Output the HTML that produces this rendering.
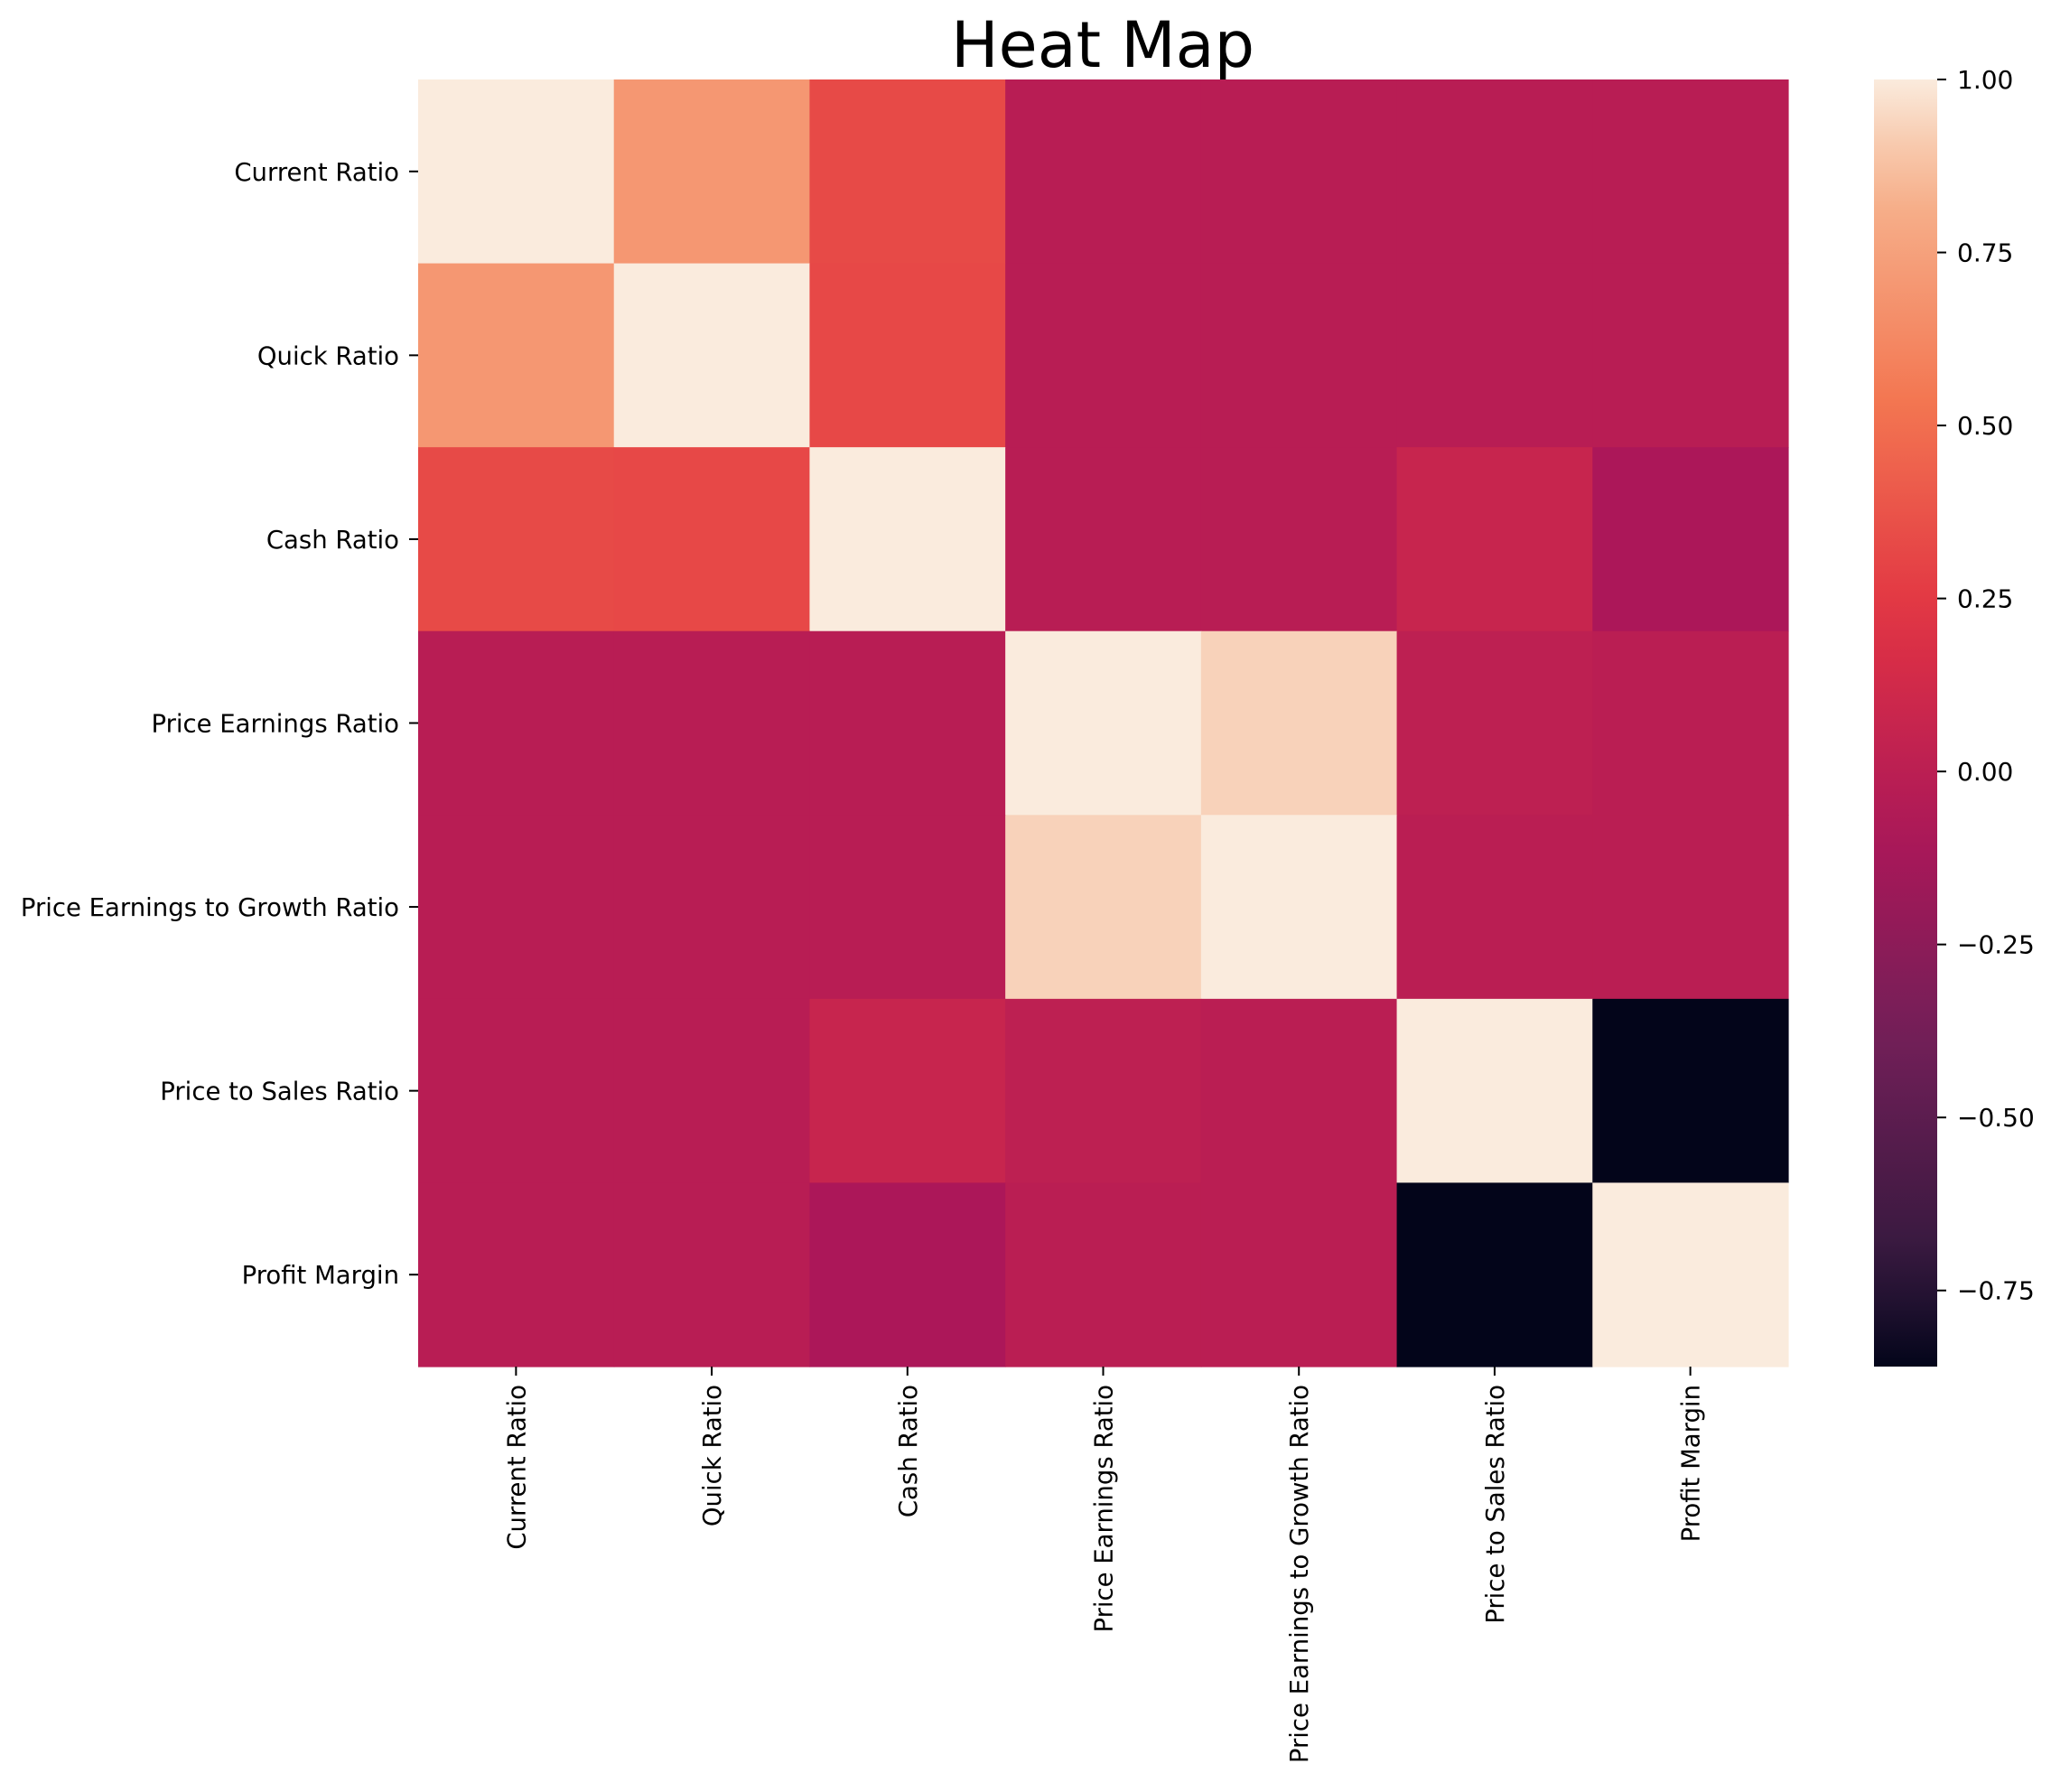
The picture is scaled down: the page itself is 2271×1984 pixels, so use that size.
<!DOCTYPE html>
<html><head><meta charset="utf-8"><style>
html,body{margin:0;padding:0;background:#fff;}
svg text{font-family:"DejaVu Sans","Liberation Sans",sans-serif;fill:#000;}
</style></head><body>
<svg id="chart" width="2271" height="1979" xmlns="http://www.w3.org/2000/svg">
<text x="1221" y="74" font-size="70" text-anchor="middle">Heat Map</text>
<g id="cells"></g>
<g id="ylab"></g>
<g id="xlab"></g>
<defs><linearGradient id="cbg" x1="0" y1="1" x2="0" y2="0"></linearGradient></defs>
<rect x="2075" y="88" width="70" height="1425" fill="url(#cbg)"/>
<g id="cbticks"></g>
</svg>
<script>
const labels = ["Current Ratio","Quick Ratio","Cash Ratio","Price Earnings Ratio","Price Earnings to Growth Ratio","Price to Sales Ratio","Profit Margin"];
const row0 = [1.00, 0.70, 0.33, -0.02, -0.02, -0.02, -0.02];
const row1 = [0.70, 1.00, 0.32, -0.02, -0.02, -0.02, -0.02];
const row2 = [0.33, 0.32, 1.00, -0.02, -0.02, 0.07, -0.09];
const row3 = [-0.02, -0.02, -0.02, 1.00, 0.93, 0.01, -0.01];
const row4 = [-0.02, -0.02, -0.02, 0.93, 1.00, -0.01, -0.01];
const row5 = [-0.02, -0.02, 0.07, 0.01, -0.01, 1.00, -0.86];
const row6 = [-0.02, -0.02, -0.09, -0.01, -0.01, -0.86, 1.00];
const cbTicks = [1.00, 0.75, 0.50, 0.25, 0.00, -0.25, -0.50, -0.75];
const cbTickLabels = ["1.00","0.75","0.50","0.25","0.00","\u22120.25","\u22120.50","\u22120.75"];
const vmin = -0.86, vmax = 1.0;

const rows = [row0,row1,row2,row3,row4,row5,row6];
const L=463, R=1980, T=88, B=1513;
const cw=(R-L)/7, ch=(B-T)/7;
const stops=[[0,[3,5,26]],[1/12,[53,25,62]],[3/12,[112,31,87]],[5/12,[173,23,89]],[7/12,[225,51,66]],[9/12,[243,118,81]],[11/12,[246,180,143]],[1,[250,235,221]]];
function cmap(t){t=Math.max(0,Math.min(1,t));for(let i=1;i<stops.length;i++){if(t<=stops[i][0]){const a=stops[i-1],b=stops[i];const f=(t-a[0])/(b[0]-a[0]);const c=a[1].map((v,k)=>Math.round(v+(b[1][k]-v)*f));return `rgb(${c})`;}}return 'rgb(250,235,221)';}
function norm(v){return (v-vmin)/(vmax-vmin);}
function yScale(v){return T+(vmax-v)/(vmax-vmin)*(B-T);}
const NS="http://www.w3.org/2000/svg";
const cells=document.getElementById('cells');
rows.forEach((r,i)=>r.forEach((v,j)=>{
  const el=document.createElementNS(NS,'rect');
  el.setAttribute('x',L+j*cw);el.setAttribute('y',T+i*ch);
  el.setAttribute('width',cw+0.6);el.setAttribute('height',ch+0.6);
  el.setAttribute('fill',cmap(norm(v)));
  
  
  cells.appendChild(el);
}));
const yl=document.getElementById('ylab'), xl=document.getElementById('xlab');
labels.forEach((lab,i)=>{
  const cy=T+(i+0.5)*ch;
  const tk=document.createElementNS(NS,'line');
  tk.setAttribute('x1',L-10);tk.setAttribute('x2',L);tk.setAttribute('y1',cy);tk.setAttribute('y2',cy);tk.setAttribute('stroke','#000');tk.setAttribute('stroke-width','2');
  
  
  yl.appendChild(tk);
  const t=document.createElementNS(NS,'text');
  t.setAttribute('x',L-21);t.setAttribute('y',cy+10);t.setAttribute('font-size','27.5');t.setAttribute('text-anchor','end');
  t.textContent=lab;
  
  
  yl.appendChild(t);
  const cx=L+(i+0.5)*cw;
  const tk2=document.createElementNS(NS,'line');
  tk2.setAttribute('x1',cx);tk2.setAttribute('x2',cx);tk2.setAttribute('y1',B);tk2.setAttribute('y2',B+10);tk2.setAttribute('stroke','#000');tk2.setAttribute('stroke-width','2');
  
  
  xl.appendChild(tk2);
  const t2=document.createElementNS(NS,'text');
  t2.setAttribute('transform',`translate(${cx+10},${B+20}) rotate(-90)`);t2.setAttribute('font-size','27.5');t2.setAttribute('text-anchor','end');
  t2.textContent=lab;
  
  
  xl.appendChild(t2);
});
const g=document.getElementById('cbg');
for(let k=0;k<=20;k++){const s=document.createElementNS(NS,'stop');s.setAttribute('offset',k/20);s.setAttribute('stop-color',cmap(k/20));g.appendChild(s);}
const cbt=document.getElementById('cbticks');
cbTicks.forEach((v,i)=>{
  const y=yScale(v);
  const tk=document.createElementNS(NS,'line');
  tk.setAttribute('x1',2145);tk.setAttribute('x2',2155);tk.setAttribute('y1',y);tk.setAttribute('y2',y);tk.setAttribute('stroke','#000');tk.setAttribute('stroke-width','2');
  
  
  cbt.appendChild(tk);
  const t=document.createElementNS(NS,'text');
  t.setAttribute('x',2167);t.setAttribute('y',y+10);t.setAttribute('font-size','28');
  t.textContent=cbTickLabels[i];
  
  
  cbt.appendChild(t);
});
</script>
</body></html>
